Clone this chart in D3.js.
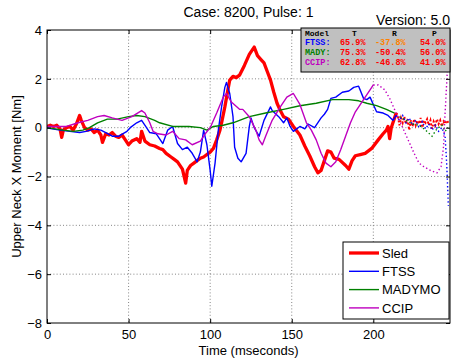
<!DOCTYPE html>
<html><head><meta charset="utf-8">
<script src="https://cdn.jsdelivr.net/npm/d3@7"></script>
<style>body{margin:0;background:#fff}svg{display:block}</style>
</head><body>
<svg id="c" width="453" height="362"></svg>
<script>
// ---------- data ----------
const xTicks = [0, 50, 100, 150, 200];
const yTicks = [-8, -6, -4, -2, 0, 2, 4];
const seriesNames = ["Sled", "FTSS", "MADYMO", "CCIP"];
const seriesColors = ["#ff0000", "#0000ff", "#008000", "#bf00bf"];
const solidEnd = [214, 214, 214, 200];

const sledT = [0,2,4,6,8,9,10,12,14,16,18,20,21,23,25,27,29,31,33,34,36,38,40,42,44,46,48,50,52,55,57,58,60,63,66,69,71,73,76,78,80,83,85,86,88,90,92,94,96,98,100,102,104,106,107,109,111,112,114,116,118,121,124,127,129,131,133,135,137,139,141,143,145,148,151,155,158,161,164,166,168,170,172,174,176,179,183,185,187,189,192,195,199,203,206,208,209,210,211,213,214,
  215,216,217,218,219,220,221,222,223,224,225,226,227,228,229,230,231,232,233,234,235,236,237,238,239,240,241,242,243,244,245,246];
const sledV = [0.05,0.1,0.05,0.1,-0.05,-0.4,-0.1,0.0,0.05,-0.1,0.15,0.5,0.3,0.0,-0.1,-0.05,-0.2,-0.1,-0.3,-0.6,-0.25,-0.3,-0.2,-0.35,-0.4,-0.3,-0.5,-0.7,-0.55,-0.45,-0.6,-0.15,-0.55,-0.7,-0.75,-0.85,-0.9,-1.05,-1.2,-1.3,-1.4,-1.7,-2.27,-1.75,-1.55,-1.45,-1.35,-1.25,-1.2,-1.1,-1.0,-0.85,-0.5,-0.1,0.2,0.85,1.6,1.95,2.1,2.05,2.15,2.55,3.0,3.3,2.95,2.8,2.65,2.3,1.95,1.45,1.0,0.7,0.45,0.35,0.05,-0.3,-0.75,-1.15,-1.6,-1.85,-1.75,-1.35,-0.95,-1.0,-1.25,-1.3,-1.55,-1.7,-1.35,-1.15,-1.1,-1.05,-0.85,-0.5,-0.25,-0.1,0.05,-0.45,0.0,0.4,0.6,
  0.5,0.1,0.4,0.2,0.45,0.15,0.35,-0.1,0.3,0.05,0.35,0.1,0.3,0.15,0.4,0.0,0.3,0.2,0.35,0.1,0.3,-0.05,0.25,0.1,0.35,0.15,0.3,0.05,0.25,0.15,0.3,0.2];

const ftssT = [0,3,8,14,20,24,29,33,36,40,44,49,51,55,58,61,63,67,71,74,77,80,83,86,89,92,94,96,98,100,101,103,105,107,109,110,112,114,115,117,119,122,124,125,127,130,133,137,138,142,145,147,149,151,155,158,160,164,168,170,172,174,177,181,185,188,191,194,196,198,200,202,206,209,212,214,
  216,218,220,222,224,226,228,230,232,234,236,238,240,242,244,245,246];
const ftssV = [0.0,-0.05,-0.1,-0.15,-0.2,-0.15,-0.05,-0.1,-0.2,-0.35,-0.35,-0.15,0.0,0.2,0.3,0.0,-0.2,-0.25,-0.65,-0.1,0.05,-0.65,-0.9,-0.8,-1.05,-1.4,-1.0,-0.1,-0.7,-1.75,-2.4,-1.45,-0.1,0.85,1.65,1.85,1.4,0.45,-0.8,-1.25,-1.4,-1.05,0.05,0.4,0.0,-0.35,0.3,0.85,0.7,0.45,0.2,0.4,0.05,-0.15,0.05,-0.05,0.15,0.0,0.4,0.55,0.75,1.2,1.25,1.45,1.5,1.65,1.7,1.2,1.15,1.25,0.95,0.65,0.6,0.5,0.3,0.5,
  0.3,0.5,0.2,0.4,0.1,0.3,0.0,0.25,-0.05,0.15,-0.1,0.1,-0.15,0.0,-0.35,-1.5,-3.2];

const madyT = [0,5,10,16,22,26,31,37,43,50,55,60,66,69,77,87,94,98,102,108,114,118,124,134,145,155,165,175,185,191,196,202,208,213,
  216,220,224,228,232,236,239,242,244,246];
const madyV = [0.0,-0.05,-0.1,-0.15,-0.1,0.0,0.2,0.35,0.35,0.45,0.5,0.45,0.3,0.2,0.05,0.05,0.0,-0.1,0.05,0.1,0.2,0.3,0.45,0.6,0.75,0.9,1.0,1.15,1.15,1.1,1.0,0.9,0.75,0.6,
  0.45,0.3,0.15,0.1,-0.1,-0.35,-0.05,0.1,-0.15,0.0];

const ccipT = [0,6,12,19,25,31,35,40,46,52,58,60,63,65,68,73,77,81,85,89,94,97,100,104,108,110,113,118,120,124,128,130,132,134,138,143,147,151,155,159,162,165,168,171,174,177,180,183,186,189,194,198,200,
  203,207,210,213,216,219,222,225,228,231,235,239,241.5,243,244,245.5,247];
const ccipV = [0.05,0.05,0.05,0.2,0.3,0.45,0.5,0.4,0.3,0.45,0.7,0.6,0.2,-0.15,-0.25,-0.3,-0.15,-0.45,-0.5,-0.7,-0.55,-0.25,0.0,0.6,1.25,1.4,1.05,0.75,0.75,0.45,-0.1,-0.5,-0.7,-0.35,0.3,0.85,1.25,1.4,0.95,0.2,-0.1,-0.5,-1.05,-1.45,-1.6,-1.4,-0.9,-0.35,0.2,0.65,1.15,1.55,1.75,
  1.75,1.55,1.2,0.75,0.3,-0.15,-0.6,-1.05,-1.45,-1.6,-1.75,-1.85,-1.6,-0.8,0.6,2.5,4.5];

const tableHeader = ["Model", "T", "R", "P"];
const tableRows = ["FTSS:", "MADY:", "CCIP:"];
const tableColT = ["65.9%", "75.3%", "62.8%"];
const tableColR = ["-37.8%", "-50.4%", "-46.8%"];
const tableColP = ["54.0%", "56.0%", "41.9%"];
const tableRColors = ["#ff8000", "#ff0000", "#ff0000"];

// ---------- drawing ----------
const SANS = '"Liberation Sans",Arial,sans-serif';
const MONO = '"Liberation Mono","DejaVu Sans Mono",monospace';
const svg = d3.select("#c");
const L = 47, R = 450, T = 30, B = 323;
const x = d3.scaleLinear().domain([0, 247]).range([L, R]);
const y = d3.scaleLinear().domain([-8, 4]).range([B, T]);

svg.append("defs").append("clipPath").attr("id", "clip")
  .append("rect").attr("x", L).attr("y", T).attr("width", R - L).attr("height", B - T);

// grid
const grid = svg.append("g").attr("stroke", "#666").attr("stroke-width", 0.8).attr("stroke-dasharray", "1,2.2");
xTicks.filter(d => d > 0).forEach(d => grid.append("line").attr("x1", x(d)).attr("x2", x(d)).attr("y1", T).attr("y2", B));
yTicks.filter(d => d > -8 && d < 4).forEach(d => grid.append("line").attr("x1", L).attr("x2", R).attr("y1", y(d)).attr("y2", y(d)));

// series
const allT = [sledT, ftssT, madyT, ccipT];
const allV = [sledV, ftssV, madyV, ccipV];
const widths = [3.3, 1.4, 1.4, 1.4];
const line = d3.line().x(d => x(d[0])).y(d => y(d[1]));
const plot = svg.append("g").attr("clip-path", "url(#clip)");
allT.forEach((ts, i) => {
  const pts = ts.map((t, j) => [t, allV[i][j]]);
  const solid = pts.filter(p => p[0] <= solidEnd[i]);
  const dotted = pts.filter(p => p[0] >= solidEnd[i]);
  plot.append("path").attr("d", line(dotted)).attr("fill", "none")
    .attr("stroke", seriesColors[i]).attr("stroke-width", i === 0 ? 2 : 1.4)
    .attr("stroke-dasharray", i === 0 ? "2,2" : "1.4,2.4");
  plot.append("path").attr("d", line(solid)).attr("fill", "none")
    .attr("stroke", seriesColors[i]).attr("stroke-width", widths[i])
    .attr("stroke-linejoin", "round");
});

// axes
const fmt = d3.format("d");
const ax = svg.append("g").attr("transform", `translate(0,${B})`)
  .call(d3.axisBottom(x).tickValues(xTicks).tickSize(-4).tickPadding(7).tickFormat(fmt));
const axT = svg.append("g").attr("transform", `translate(0,${T})`)
  .call(d3.axisTop(x).tickValues(xTicks).tickSize(-4).tickFormat(""));
const ay = svg.append("g").attr("transform", `translate(${L},0)`)
  .call(d3.axisLeft(y).tickValues(yTicks).tickSize(-4).tickPadding(5).tickFormat(fmt));
const ayR = svg.append("g").attr("transform", `translate(${R},0)`)
  .call(d3.axisRight(y).tickValues(yTicks).tickSize(-4).tickFormat(""));
[ax, axT, ay, ayR].forEach(g => {
  g.select(".domain").remove();
  g.selectAll("line").attr("stroke", "#000");
  g.selectAll("text").style("font-size", "13px").attr("fill", "#000").style("font-family", SANS);
});
svg.append("rect").attr("x", L).attr("y", T).attr("width", R - L).attr("height", B - T)
  .attr("fill", "none").attr("stroke", "#000").attr("stroke-width", 1);

// labels
const lab = (xx, yy, s, size, anchor) => svg.append("text").attr("x", xx).attr("y", yy)
  .attr("text-anchor", anchor).style("font-family", SANS).style("font-size", size + "px").text(s);
lab((L + R) / 2, 17, "Case: 8200, Pulse: 1", 14, "middle");
lab((L + R) / 2, 355, "Time (mseconds)", 13, "middle");
svg.append("text").attr("transform", `translate(21,${(T + B) / 2}) rotate(-90)`).attr("text-anchor", "middle")
  .style("font-family", SANS).style("font-size", "13px").text("Upper Neck X Moment [Nm]");
lab(450, 25, "Version: 5.0", 14, "end");

// table box
const tb = svg.append("g");
tb.append("clipPath").attr("id", "tclip").append("rect").attr("x", 301).attr("y", 28).attr("width", 149).attr("height", 44);
tb.append("rect").attr("x", 301).attr("y", 28).attr("width", 149).attr("height", 44)
  .attr("fill", "#c0c0c0").attr("stroke", "#000").attr("stroke-width", 1);
const tg = tb.append("g").attr("clip-path", "url(#tclip)");
const tt = (xx, yy, s, c, fs) => tg.append("text").attr("x", xx).attr("y", yy)
  .style("font-family", MONO).style("font-weight", "bold").style("font-size", (fs || 8.5) + "px").attr("fill", c).text(s);
const colX = [305, 340, 375, 420];
const hdrX = [305, 352, 392, 432];
tableHeader.forEach((h, i) => tt(hdrX[i], 35.5, h, "#000", 8));
tableRows.forEach((r, i) => {
  const yy = 45 + i * 10;
  tt(colX[0], yy, r, seriesColors[i + 1]);
  tt(colX[1], yy, tableColT[i], "#ff0000");
  tt(colX[2], yy, tableColR[i], tableRColors[i]);
  tt(colX[3], yy, tableColP[i], "#ff0000");
});

// legend
const lg = svg.append("g");
lg.append("rect").attr("x", 343).attr("y", 242).attr("width", 106).attr("height", 77)
  .attr("fill", "#fff").attr("stroke", "#000").attr("stroke-width", 1);
seriesNames.forEach((n, i) => {
  const yy = 253 + i * 18.3;
  lg.append("line").attr("x1", 349).attr("x2", 379).attr("y1", yy).attr("y2", yy)
    .attr("stroke", seriesColors[i]).attr("stroke-width", i === 0 ? 3.3 : 1.4);
  lg.append("text").attr("x", 382).attr("y", yy + 4.7).style("font-family", SANS).style("font-size", "13px").text(n);
});
</script>
</body></html>
